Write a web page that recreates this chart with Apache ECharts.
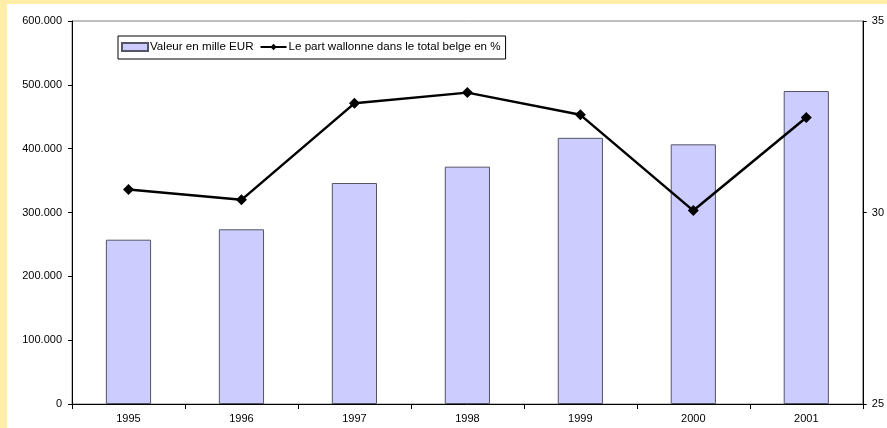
<!DOCTYPE html>
<html>
<head>
<meta charset="utf-8">
<script src="https://cdn.jsdelivr.net/npm/echarts@6/dist/echarts.min.js"></script>
<style>
html,body{margin:0;padding:0;width:887px;height:428px;overflow:hidden;background:#FFEEAA;}
#panel{position:absolute;left:7px;top:4px;width:880px;height:424px;background:#fff;}
#chart{position:absolute;left:0;top:0;width:887px;height:428px;}
</style>
</head>
<body>
<div id="panel"></div>
<div id="chart"></div>
<script>
const categories = ['1995','1996','1997','1998','1999','2000','2001'];
const valeurs = [257400, 273700, 346200, 371800, 417000, 406800, 490300];
const partWallonne = [30.6, 30.33, 32.85, 33.13, 32.55, 30.05, 32.48];
const barName = 'Valeur en mille EUR';
const lineName = 'Le part wallonne dans le total belge en %';

function fmtThousands(v){
  if (v === 0) return '0';
  return String(Math.round(v)).replace(/\B(?=(\d{3})+(?!\d))/g, '.');
}

const chart = echarts.init(document.getElementById('chart'), null, {renderer:'canvas'});
const font = 'Liberation Sans, Arial, sans-serif';
chart.setOption({
  backgroundColor: 'transparent',
  animation: false,
  textStyle: {fontFamily: font},
  grid: {left: 72, right: 22, top: 21, bottom: 24, show: true, borderColor: '#808080', borderWidth: 1, backgroundColor: 'transparent'},
  legend: {
    left: 118, top: 36,
    orient: 'horizontal',
    borderColor: '#000', borderWidth: 1,
    padding: [5, 5, 6, 3],
    itemWidth: 26, itemHeight: 8, itemGap: 6,
    textStyle: {fontFamily: font, fontSize: 11.6, color: '#000', padding: [0,0,0,-3]},
    data: [{name: barName, icon: 'rect'}, {name: lineName}]
  },
  xAxis: {
    type: 'category',
    data: categories,
    boundaryGap: true,
    axisLine: {lineStyle: {color: '#000', width: 1}},
    axisTick: {show: true, length: 5, alignWithLabel: false, lineStyle: {color: '#000'}},
    axisLabel: {color: '#000', fontSize: 11, fontFamily: font, margin: 9},
    splitLine: {show: false}
  },
  yAxis: [
    {
      type: 'value', min: 0, max: 600000, interval: 100000,
      axisLine: {show: true, lineStyle: {color: '#000', width: 1}},
      axisTick: {show: true, length: 4, lineStyle: {color: '#000'}},
      axisLabel: {color: '#000', fontSize: 11, fontFamily: font, margin: 10, formatter: fmtThousands},
      splitLine: {show: false}
    },
    {
      type: 'value', min: 25, max: 35, interval: 5, position: 'right',
      axisLine: {show: true, lineStyle: {color: '#000', width: 1}},
      axisTick: {show: true, length: 4, lineStyle: {color: '#000'}},
      axisLabel: {color: '#000', fontSize: 11, fontFamily: font, margin: 9},
      splitLine: {show: false}
    }
  ],
  series: [
    {
      name: barName, type: 'bar', data: valeurs, yAxisIndex: 0,
      barWidth: '40%',
      itemStyle: {color: '#CCCCFF', borderColor: '#555566', borderWidth: 1}
    },
    {
      name: lineName, type: 'line', data: partWallonne, yAxisIndex: 1,
      symbol: 'diamond', symbolSize: 11,
      lineStyle: {color: '#000', width: 2.5},
      itemStyle: {color: '#000'}
    }
  ]
});
</script>
</body>
</html>
